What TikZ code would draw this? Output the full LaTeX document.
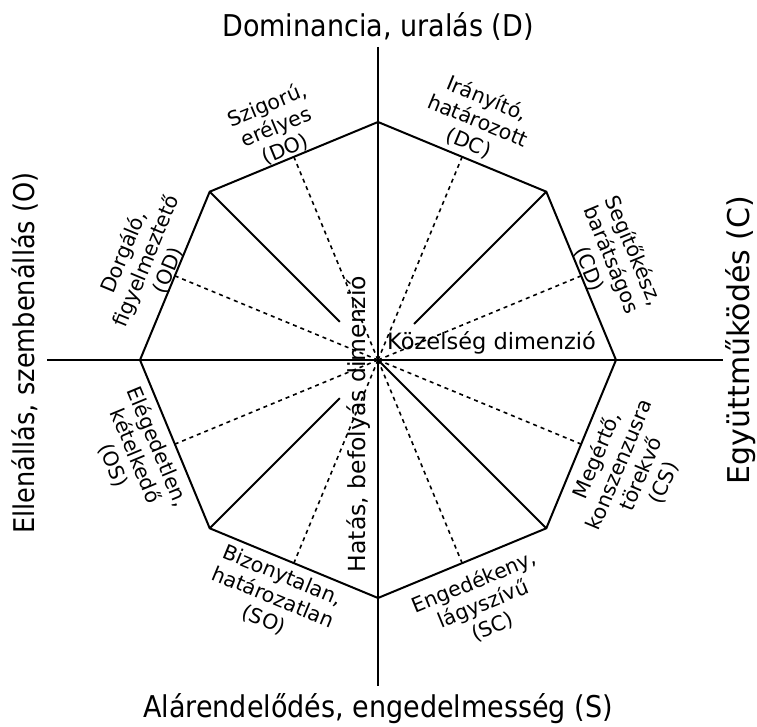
\documentclass[tikz,border=0pt]{standalone}
\usepackage{fontspec}
\setmainfont{DejaVu Sans}
\newfontfamily\axisfont[FakeStretch=0.9]{DejaVu Sans}
\begin{document}
\begin{tikzpicture}[x=1pt,y=1pt,
  edge/.style={line width=2pt, line join=miter},
  axisline/.style={line width=1.6pt},
  spoke/.style={line width=1.6pt, dash pattern=on 4pt off 4pt},
  lab/.style={align=center, inner sep=0pt, font=\fontsize{20.5}{24}\selectfont},
  axlab/.style={inner sep=0pt, font=\axisfont\fontsize{30}{36}\selectfont},
  dimlab/.style={inner sep=0pt, font=\fontsize{22.5}{26}\selectfont}]
\useasboundingbox (0,0) rectangle (757,727);
\begin{scope}[shift={(378,367)}]
  \coordinate (O) at (0,0);
  \foreach \i in {0,...,7} {
    \coordinate (v\i) at ({45*\i}:238);
    \coordinate (m\i) at ({45*\i+22.5}:220);
  }
  % axes
  \coordinate (axT) at (0,313);
  \coordinate (axB) at (0,-326);
  \coordinate (axL) at (-331,0);
  \coordinate (axR) at (345,0);
  \draw[axisline] (axT) -- (axB);
  \draw[axisline] (axL) -- (axR);
  % dashed spokes
  \foreach \i in {0,...,7} { \draw[spoke] (O) -- (m\i); }
  % solid diagonals
  \coordinate (d1) at (45:51);
  \coordinate (d3) at (135:54);
  \coordinate (d5) at (225:54);
  \draw[edge] (v1) -- (d1);
  \draw[edge] (v3) -- (d3);
  \draw[edge] (v5) -- (d5);
  \draw[edge] (v7) -- (O);
  % octagon
  \draw[edge] (v0) -- (v1) -- (v2) -- (v3) -- (v4) -- (v5) -- (v6) -- (v7) -- cycle;
  \fill (O) circle (1.5);
  % octant labels
  \node[lab, rotate=22.5]  (DO) at (113.6:254) {Szigorú,\\erélyes\\(DO)};
  \node[lab, rotate=-22.5] (DC) at (67.3:259) {Irányító,\\határozott\\(DC)};
  \node[lab, rotate=-67.5] (CD) at (23.2:254) {Segítőkész,\\barátságos\\(CD)};
  \node[lab, rotate=67.5]  (CS) at (-23.4:275) {Megértő,\\konszenzusra\\törekvő\\(CS)};
  \node[lab, rotate=22.5]  (SC) at (-66.7:266) {Engedékeny,\\lágyszívű\\(SC)};
  \node[lab, rotate=-22.5] (SO) at (-113.8:260) {Bizonytalan,\\határozatlan\\(SO)};
  \node[lab, rotate=-67.5] (OS) at (-158.4:261) {Elégedetlen,\\kételkedő\\(OS)};
  \node[lab, rotate=67.5]  (OD) at (156.9:252) {Dorgáló,\\figyelmeztető\\(OD)};
  % dimension labels
  \node[dimlab, anchor=base west] (kozel) at (9,10) {Közelség dimenzió};
  \node[dimlab, font=\fontsize{23.5}{27}\selectfont, rotate=90, anchor=base] (hatas) at (-13,-64) {Hatás, befolyás dimenzió};
  % axis labels
  \node[axlab, anchor=base] (Dlab) at (0,323) {Dominancia, uralás (D)};
  \node[axlab, anchor=base] (Slab) at (0,-358) {Alárendelődés, engedelmesség (S)};
  \node[axlab, font=\axisfont\fontsize{28.5}{34}\selectfont, rotate=90, anchor=base] (Olab) at (-344,7) {Ellenállás, szembenállás (O)};
  \node[axlab, font=\fontsize{30}{36}\selectfont, rotate=90, anchor=base] (Clab) at (371,20) {Együttműködés (C)};
\end{scope}
\end{tikzpicture}
\end{document}
